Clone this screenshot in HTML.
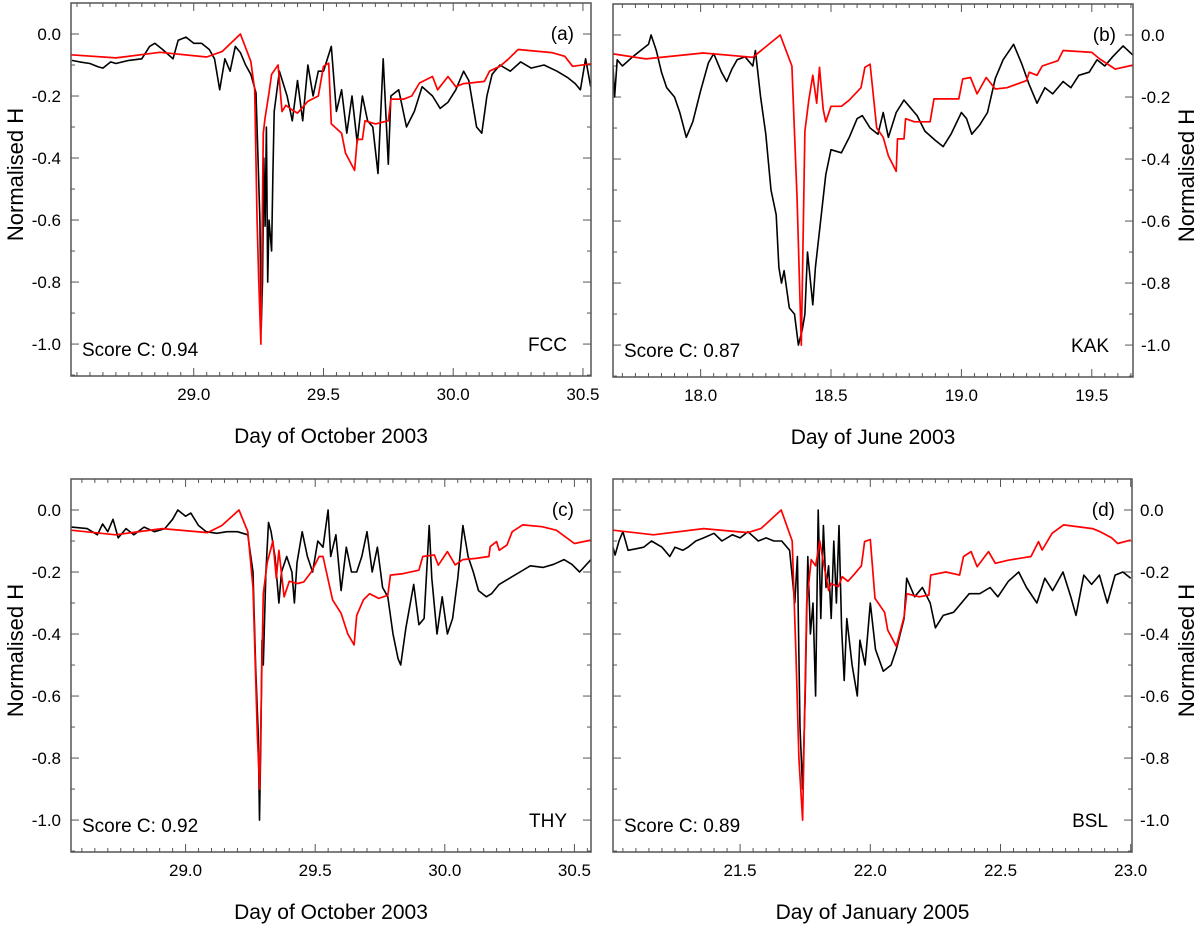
<!DOCTYPE html>
<html><head><meta charset="utf-8">
<style>
body{margin:0;background:#fff;}
svg{display:block;font-family:"Liberation Sans",Arial,sans-serif;}
</style></head>
<body>
<svg id="fig" width="1200" height="927" viewBox="0 0 1200 927" xmlns="http://www.w3.org/2000/svg"></svg>
<script>
// ---- Panel (a) FCC ----
const aRedX=[28.527,28.70,28.87,29.05,29.11,29.18,29.22,29.235,29.244,29.25,29.259,29.268,29.275,29.29,29.30,29.325,29.34,29.355,29.38,29.40,29.44,29.48,29.50,29.52,29.53,29.57,29.585,29.62,29.63,29.65,29.66,29.70,29.75,29.76,29.81,29.84,29.87,29.92,29.94,29.98,30.01,30.04,30.065,30.12,30.14,30.18,30.21,30.25,30.38,30.43,30.46,30.531];
const aRedY=[-0.067,-0.077,-0.059,-0.074,-0.056,0.0,-0.088,-0.18,-0.59,-0.78,-1.0,-0.32,-0.27,-0.19,-0.13,-0.10,-0.25,-0.23,-0.245,-0.255,-0.217,-0.2,-0.104,-0.094,-0.29,-0.32,-0.384,-0.44,-0.34,-0.34,-0.28,-0.29,-0.28,-0.21,-0.21,-0.2,-0.158,-0.137,-0.18,-0.137,-0.17,-0.16,-0.158,-0.153,-0.12,-0.104,-0.083,-0.05,-0.06,-0.072,-0.104,-0.096];
const aBlkX=[28.53,28.56,28.60,28.63,28.65,28.68,28.70,28.75,28.80,28.83,28.85,28.88,28.92,28.94,28.97,29.0,29.03,29.06,29.08,29.10,29.12,29.14,29.16,29.18,29.20,29.22,29.24,29.255,29.26,29.265,29.27,29.275,29.28,29.285,29.29,29.30,29.305,29.31,29.33,29.36,29.38,29.40,29.42,29.44,29.46,29.48,29.50,29.53,29.55,29.57,29.59,29.61,29.63,29.65,29.67,29.69,29.71,29.73,29.75,29.76,29.79,29.82,29.85,29.88,29.92,29.95,29.98,30.01,30.04,30.06,30.09,30.11,30.13,30.15,30.18,30.22,30.26,30.30,30.35,30.40,30.44,30.47,30.49,30.51,30.53];
const aBlkY=[-0.085,-0.09,-0.095,-0.105,-0.11,-0.09,-0.095,-0.085,-0.08,-0.04,-0.03,-0.05,-0.08,-0.02,-0.01,-0.03,-0.03,-0.05,-0.08,-0.18,-0.08,-0.12,-0.04,-0.06,-0.10,-0.13,-0.19,-0.6,-0.95,-0.8,-0.4,-0.62,-0.3,-0.8,-0.6,-0.7,-0.45,-0.25,-0.12,-0.2,-0.28,-0.15,-0.28,-0.1,-0.2,-0.12,-0.12,-0.04,-0.25,-0.18,-0.32,-0.2,-0.35,-0.2,-0.28,-0.3,-0.45,-0.08,-0.42,-0.2,-0.18,-0.3,-0.25,-0.17,-0.2,-0.24,-0.22,-0.18,-0.12,-0.15,-0.3,-0.32,-0.2,-0.13,-0.1,-0.12,-0.09,-0.11,-0.10,-0.12,-0.14,-0.16,-0.18,-0.08,-0.17];
// ---- Panel (b) KAK ----
const bRedX=[17.664,17.79,18.01,18.20,18.305,18.35,18.37,18.386,18.40,18.415,18.43,18.445,18.456,18.47,18.48,18.50,18.54,18.57,18.615,18.63,18.65,18.675,18.70,18.72,18.75,18.755,18.78,18.786,18.82,18.88,18.895,18.99,19.005,19.035,19.06,19.095,19.13,19.175,19.25,19.26,19.29,19.31,19.37,19.39,19.5,19.53,19.59,19.658];
const bRedY=[-0.061,-0.077,-0.058,-0.072,0.0,-0.1,-0.53,-1.0,-0.31,-0.21,-0.13,-0.22,-0.104,-0.24,-0.28,-0.23,-0.23,-0.21,-0.17,-0.104,-0.094,-0.3,-0.33,-0.39,-0.44,-0.335,-0.335,-0.27,-0.28,-0.28,-0.206,-0.206,-0.142,-0.137,-0.19,-0.137,-0.174,-0.17,-0.147,-0.12,-0.13,-0.1,-0.083,-0.05,-0.056,-0.077,-0.11,-0.097];
const bBlkX=[17.664,17.67,17.68,17.70,17.74,17.77,17.80,17.81,17.83,17.85,17.87,17.90,17.92,17.945,17.97,18.0,18.03,18.05,18.08,18.10,18.12,18.14,18.17,18.20,18.21,18.23,18.25,18.27,18.29,18.30,18.31,18.32,18.34,18.36,18.375,18.39,18.40,18.41,18.43,18.44,18.46,18.48,18.50,18.54,18.57,18.60,18.62,18.65,18.68,18.70,18.72,18.75,18.78,18.80,18.83,18.86,18.90,18.93,18.96,19.0,19.02,19.04,19.07,19.10,19.13,19.16,19.20,19.23,19.26,19.29,19.32,19.35,19.39,19.42,19.45,19.49,19.52,19.55,19.58,19.62,19.658];
const bBlkY=[-0.1,-0.2,-0.08,-0.1,-0.07,-0.05,-0.03,0.0,-0.05,-0.12,-0.17,-0.2,-0.25,-0.33,-0.28,-0.18,-0.09,-0.06,-0.12,-0.15,-0.11,-0.08,-0.07,-0.1,-0.05,-0.2,-0.32,-0.5,-0.58,-0.75,-0.8,-0.76,-0.88,-0.9,-1.0,-0.95,-0.9,-0.7,-0.87,-0.75,-0.6,-0.45,-0.37,-0.38,-0.33,-0.27,-0.26,-0.3,-0.32,-0.25,-0.33,-0.25,-0.21,-0.23,-0.26,-0.31,-0.34,-0.36,-0.32,-0.25,-0.27,-0.32,-0.29,-0.25,-0.14,-0.08,-0.03,-0.09,-0.16,-0.22,-0.17,-0.19,-0.15,-0.17,-0.13,-0.12,-0.08,-0.1,-0.07,-0.035,-0.065];
// ---- Panel (c) THY ----
const cRedX=[28.558,28.73,28.91,29.085,29.14,29.206,29.24,29.26,29.277,29.286,29.295,29.30,29.315,29.337,29.35,29.36,29.38,29.40,29.433,29.456,29.485,29.515,29.53,29.567,29.60,29.626,29.65,29.66,29.686,29.71,29.745,29.78,29.79,29.84,29.90,29.915,29.96,29.975,30.01,30.04,30.07,30.12,30.17,30.175,30.2,30.21,30.24,30.26,30.30,30.375,30.43,30.50,30.564];
const cRedY=[-0.065,-0.08,-0.06,-0.073,-0.05,0.0,-0.07,-0.25,-0.73,-0.9,-0.48,-0.27,-0.17,-0.1,-0.22,-0.13,-0.28,-0.23,-0.237,-0.232,-0.2,-0.15,-0.15,-0.29,-0.333,-0.40,-0.435,-0.34,-0.29,-0.27,-0.285,-0.275,-0.21,-0.205,-0.194,-0.15,-0.145,-0.178,-0.134,-0.177,-0.16,-0.156,-0.15,-0.118,-0.102,-0.13,-0.113,-0.07,-0.048,-0.054,-0.065,-0.108,-0.097];
const cBlkX=[28.56,28.62,28.66,28.68,28.70,28.72,28.74,28.77,28.80,28.84,28.88,28.92,28.95,28.97,29.0,29.02,29.05,29.08,29.12,29.16,29.20,29.24,29.26,29.27,29.28,29.285,29.29,29.295,29.30,29.305,29.31,29.32,29.33,29.345,29.36,29.37,29.39,29.41,29.42,29.43,29.45,29.47,29.49,29.51,29.53,29.55,29.56,29.58,29.60,29.62,29.64,29.66,29.68,29.70,29.72,29.74,29.76,29.78,29.80,29.82,29.83,29.85,29.88,29.90,29.92,29.94,29.95,29.97,29.99,30.01,30.03,30.05,30.07,30.09,30.11,30.13,30.16,30.18,30.21,30.25,30.29,30.33,30.38,30.42,30.46,30.49,30.52,30.564];
const cBlkY=[-0.055,-0.06,-0.08,-0.045,-0.07,-0.03,-0.09,-0.06,-0.08,-0.055,-0.07,-0.06,-0.03,0.0,-0.02,-0.01,-0.05,-0.07,-0.075,-0.07,-0.07,-0.08,-0.2,-0.5,-0.72,-1.0,-0.75,-0.42,-0.5,-0.35,-0.2,-0.04,-0.07,-0.15,-0.3,-0.2,-0.15,-0.2,-0.3,-0.17,-0.07,-0.15,-0.2,-0.1,-0.12,0.0,-0.15,-0.08,-0.26,-0.12,-0.2,-0.2,-0.15,-0.07,-0.2,-0.12,-0.25,-0.28,-0.4,-0.48,-0.5,-0.38,-0.24,-0.37,-0.35,-0.05,-0.22,-0.4,-0.28,-0.4,-0.35,-0.22,-0.05,-0.15,-0.2,-0.26,-0.28,-0.27,-0.24,-0.22,-0.2,-0.18,-0.185,-0.175,-0.16,-0.175,-0.2,-0.16];
// ---- Panel (d) BSL ----
const dRedX=[21.012,21.167,21.36,21.53,21.58,21.658,21.70,21.715,21.726,21.74,21.748,21.756,21.773,21.79,21.806,21.818,21.84,21.848,21.877,21.892,21.914,21.936,21.966,21.978,22.0,22.018,22.055,22.067,22.1,22.13,22.14,22.188,22.225,22.232,22.29,22.343,22.358,22.387,22.41,22.454,22.48,22.53,22.617,22.646,22.66,22.698,22.742,22.853,22.883,22.927,22.95,23.0];
const dRedY=[-0.065,-0.08,-0.06,-0.073,-0.06,0.0,-0.1,-0.48,-0.8,-1.0,-0.64,-0.3,-0.16,-0.18,-0.1,-0.16,-0.26,-0.237,-0.247,-0.215,-0.23,-0.21,-0.18,-0.102,-0.095,-0.285,-0.33,-0.387,-0.44,-0.344,-0.27,-0.28,-0.274,-0.21,-0.2,-0.21,-0.15,-0.134,-0.183,-0.134,-0.172,-0.162,-0.15,-0.102,-0.129,-0.075,-0.048,-0.06,-0.07,-0.09,-0.108,-0.097];
const dBlkX=[21.012,21.02,21.035,21.05,21.07,21.10,21.13,21.16,21.20,21.23,21.25,21.28,21.30,21.33,21.36,21.40,21.43,21.47,21.50,21.53,21.57,21.60,21.63,21.66,21.69,21.71,21.72,21.73,21.74,21.75,21.76,21.77,21.78,21.79,21.80,21.81,21.82,21.83,21.84,21.85,21.86,21.87,21.88,21.89,21.90,21.91,21.93,21.95,21.96,21.98,22.00,22.02,22.05,22.08,22.10,22.13,22.14,22.17,22.20,22.23,22.25,22.28,22.32,22.35,22.38,22.42,22.46,22.49,22.53,22.57,22.60,22.64,22.67,22.70,22.74,22.77,22.79,22.82,22.85,22.88,22.91,22.94,22.97,23.0];
const dBlkY=[-0.12,-0.145,-0.1,-0.07,-0.13,-0.125,-0.12,-0.1,-0.12,-0.15,-0.12,-0.13,-0.12,-0.1,-0.09,-0.075,-0.1,-0.08,-0.09,-0.07,-0.1,-0.09,-0.1,-0.1,-0.13,-0.3,-0.15,-0.7,-0.9,-0.6,-0.15,-0.4,-0.3,-0.6,0.0,-0.35,-0.05,-0.25,-0.18,-0.35,-0.1,-0.3,-0.05,-0.38,-0.55,-0.35,-0.5,-0.6,-0.42,-0.5,-0.3,-0.45,-0.52,-0.5,-0.45,-0.35,-0.22,-0.28,-0.25,-0.3,-0.38,-0.34,-0.33,-0.3,-0.27,-0.27,-0.25,-0.28,-0.23,-0.2,-0.25,-0.3,-0.22,-0.26,-0.2,-0.28,-0.34,-0.21,-0.24,-0.21,-0.3,-0.21,-0.2,-0.22];
// tick labels
const yTickVals=[0.0,-0.2,-0.4,-0.6,-0.8,-1.0];
const yTickLabels=["0.0","-0.2","-0.4","-0.6","-0.8","-1.0"];
const aXTicks=[29.0,29.5,30.0,30.5];
const bXTicks=[18.0,18.5,19.0,19.5];
const cXTicks=[29.0,29.5,30.0,30.5];
const dXTicks=[21.5,22.0,22.5,23.0];

const NS="http://www.w3.org/2000/svg";
const svg=document.getElementById('fig');
function mk(tag,attrs,parent){const e=document.createElementNS(NS,tag);for(const k in attrs)e.setAttribute(k,attrs[k]);(parent||svg).appendChild(e);return e;}

const panels=[
 {id:'a',L:71,R:591,T:3,B:376,x0:28.527,x1:30.531,ticks:aXTicks,side:'left',rx:aRedX,ry:aRedY,kx:aBlkX,ky:aBlkY,score:'Score C: 0.94',stn:'FCC',xt:'Day of October 2003'},
 {id:'b',L:613,R:1133,T:4,B:377,x0:17.664,x1:19.658,ticks:bXTicks,side:'right',rx:bRedX,ry:bRedY,kx:bBlkX,ky:bBlkY,score:'Score C: 0.87',stn:'KAK',xt:'Day of June 2003'},
 {id:'c',L:71,R:591,T:479,B:852,x0:28.558,x1:30.564,ticks:cXTicks,side:'left',rx:cRedX,ry:cRedY,kx:cBlkX,ky:cBlkY,score:'Score C: 0.92',stn:'THY',xt:'Day of October 2003'},
 {id:'d',L:613,R:1132,T:479,B:852,x0:21.012,x1:23.005,ticks:dXTicks,side:'right',rx:dRedX,ry:dRedY,kx:dBlkX,ky:dBlkY,score:'Score C: 0.89',stn:'BSL',xt:'Day of January 2005'}
];
const Y0=0.1,Y1=-1.103;
panels.forEach(p=>{
 const g=mk('g',{});
 
 
 const sx=v=>p.L+(v-p.x0)/(p.x1-p.x0)*(p.R-p.L);
 const sy=v=>p.T+(Y0-v)/(Y0-Y1)*(p.B-p.T);
 const tk=mk('g',{stroke:'#555','stroke-width':1},g);
 
 
 for(let i=Math.ceil(p.x0*20);i<=Math.floor(p.x1*20);i++){
   const v=i/20,x=sx(v),maj=(i%10===0),len=maj?8:4;
   mk('line',{x1:x,x2:x,y1:p.B,y2:p.B-len},tk);
   mk('line',{x1:x,x2:x,y1:p.T,y2:p.T+len},tk);
 }
 for(let i=-11;i<=1;i++){
   const v=i/10,y=sy(v),maj=(i%2===0),len=maj?8:4;
   mk('line',{x1:p.L,x2:p.L+len,y1:y,y2:y},tk);
   mk('line',{x1:p.R,x2:p.R-len,y1:y,y2:y},tk);
 }
 const clip=mk('clipPath',{id:'clip'+p.id},g);
 mk('rect',{x:p.L,y:p.T,width:p.R-p.L,height:p.B-p.T},clip);
 let d='';p.kx.forEach((x,i)=>{d+=(i?'L':'M')+sx(x).toFixed(1)+','+sy(p.ky[i]).toFixed(1);});
 const bl=mk('path',{d:d,fill:'none',stroke:'#000','stroke-width':1.6,'stroke-linejoin':'round','clip-path':'url(#clip'+p.id+')'},g);
 
 
 d='';p.rx.forEach((x,i)=>{d+=(i?'L':'M')+sx(x).toFixed(1)+','+sy(p.ry[i]).toFixed(1);});
 const rl=mk('path',{d:d,fill:'none',stroke:'#ff0000','stroke-width':1.7,'stroke-linejoin':'round','clip-path':'url(#clip'+p.id+')'},g);
 
 
 const fr=mk('rect',{x:p.L,y:p.T,width:p.R-p.L,height:p.B-p.T,fill:'none',stroke:'#555','stroke-width':1.5},g);
 
 
 p.ticks.forEach(v=>{
   const t=mk('text',{x:sx(v),y:p.B+24,'font-size':17,'text-anchor':'middle',fill:'#000'},g);
   t.textContent=v.toFixed(1);
   
   
 });
 yTickVals.forEach((v,i)=>{
   const left=p.side==='left';
   const t=mk('text',{x:left?p.L-10:p.R+8,y:sy(v)+6,'font-size':17,'text-anchor':left?'end':'start',fill:'#000'},g);
   t.textContent=yTickLabels[i];
   
   
 });
 const xt=mk('text',{x:(p.L+p.R)/2,y:p.B+67,'font-size':21,'text-anchor':'middle',fill:'#000'},g);
 xt.textContent=p.xt;
 
 
 const yx=p.side==='left'?23:1194, yc=(p.T+p.B)/2-15;
 const yt=mk('text',{x:yx,y:yc,'font-size':22,'text-anchor':'middle',fill:'#000',transform:'rotate(-90 '+yx+' '+yc+')'},g);
 yt.textContent='Normalised H';
 
 
 const sc=mk('text',{x:p.L+11,y:p.B-20,'font-size':19,fill:'#000'},g);
 sc.textContent=p.score;
 
 
 const st=mk('text',{x:p.R-24,y:sy(-1.0)+7,'font-size':19,'text-anchor':'end',fill:'#000'},g);
 st.textContent=p.stn;
 
 
 const pl=mk('text',{x:p.R-17,y:sy(0)+6,'font-size':19,'text-anchor':'end',fill:'#000'},g);
 pl.textContent='('+p.id+')';
 
 
});
</script>
</body></html>
